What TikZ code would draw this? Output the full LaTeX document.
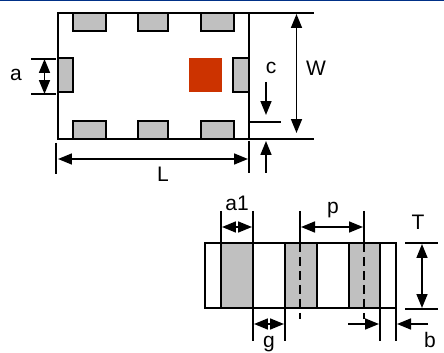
\documentclass[tikz,border=0pt]{standalone}
\usepackage{fontspec}
\setmainfont{Liberation Sans}
\usetikzlibrary{arrows.meta}
\definecolor{padgray}{RGB}{192,192,192}
\definecolor{padred}{RGB}{204,51,0}
\definecolor{topblue}{RGB}{0,48,135}
\tikzset{
    pad/.style={draw=black,line width=1.7pt,fill=padgray},
    edge/.style={draw=black,line width=1.7pt},
    tick/.style={black,line width=1.6pt},
    dim/.style={black,line width=1.6pt,{Triangle[length=14pt,width=11pt]}-{Triangle[length=14pt,width=11pt]}},
    arr/.style={black,line width=1.6pt,-{Triangle[length=14pt,width=11pt]}},
    lab/.style={inner sep=0pt,font=\fontsize{21}{25}\selectfont}
}
\begin{document}
\begin{tikzpicture}[scale=0.03515]
                \useasboundingbox (0,0) rectangle (444,-353);
                \fill [topblue] (0,0) rectangle (444,-1.2);
                % top view
                \draw [edge] (58,-13) rectangle (249,-139);
                \draw [pad] (73,-13) rectangle (106,-31);
                \draw [pad] (138,-13) rectangle (168,-31);
                \draw [pad] (201,-13) rectangle (234,-31);
                \draw [pad] (73,-121) rectangle (106,-139);
                \draw [pad] (138,-121) rectangle (168,-139);
                \draw [pad] (201,-121) rectangle (234,-139);
                \draw [pad] (58,-58) rectangle (73,-92);
                \draw [pad] (233,-58) rectangle (249,-92);
                \fill [padred] (189,-58) rectangle (222,-92);
                % a
                \draw [tick] (31,-59) -- (56,-59);
                \draw [tick] (31,-94) -- (56,-94);
                \draw [dim] (44.5,-59) -- (44.5,-94);
                \node [lab] (labela) at (16,-75) {a};
                % L
                \draw [tick] (56,-143) -- (56,-174);
                \draw [tick] (249,-141) -- (249,-173);
                \draw [dim] (58,-159) -- (248,-159);
                \node [lab] (labelL) at (163,-174) {L};
                % W
                \draw [tick] (249,-13) -- (314,-13);
                \draw [tick] (249,-139) -- (314,-139);
                \draw [dim] (296.5,-14) -- (296.5,-133);
                \node [lab] (labelW) at (316,-68) {W};
                % c
                \draw [tick] (249,-122) -- (281,-122);
                \draw [arr] (266,-82) -- (266,-115);
                \draw [arr] (266,-173) -- (266,-141);
                \node [lab] (labelc) at (271,-68) {c};
                % side view
                \draw [edge] (205,-243) rectangle (396,-308);
                \draw [pad] (221,-243) rectangle (253,-308);
                \draw [pad] (285,-243) rectangle (317,-308);
                \draw [pad] (349,-243) rectangle (380,-308);
                % a1
                \draw [tick] (221,-211) -- (221,-243);
                \draw [tick] (253,-211) -- (253,-243);
                \draw [dim] (222,-227) -- (252,-227);
                \node [lab] (labelaone) at (237,-203) {a1};
                % p
                \draw [tick] (300,-211) -- (300,-243);
                \draw [tick] (364,-211) -- (364,-243);
                \draw [dim] (301,-227) -- (363,-227);
                \draw [tick,dash pattern=on 9pt off 5pt] (300,-243) -- (300,-319);
                \draw [tick,dash pattern=on 9pt off 5pt] (364,-243) -- (364,-319);
                \node [lab] (labelp) at (333,-210) {p};
                % T
                \draw [tick] (405,-243) -- (438,-243);
                \draw [tick] (405,-309) -- (438,-309);
                \draw [dim] (422,-244) -- (422,-308);
                \node [lab] (labelT) at (418,-222) {T};
                % g
                \draw [tick] (253,-308) -- (253,-341);
                \draw [tick] (285,-308) -- (285,-341);
                \draw [dim] (254,-324) -- (284,-324);
                \node [lab] (labelg) at (269,-344) {g};
                % b
                \draw [tick] (380,-308) -- (380,-341);
                \draw [tick] (396,-308) -- (396,-341);
                \draw [arr] (348,-324) -- (379,-324);
                \draw [arr] (428,-324) -- (397,-324);
                \node [lab] (labelb) at (430,-340) {b};
            \end{tikzpicture}
\end{document}
